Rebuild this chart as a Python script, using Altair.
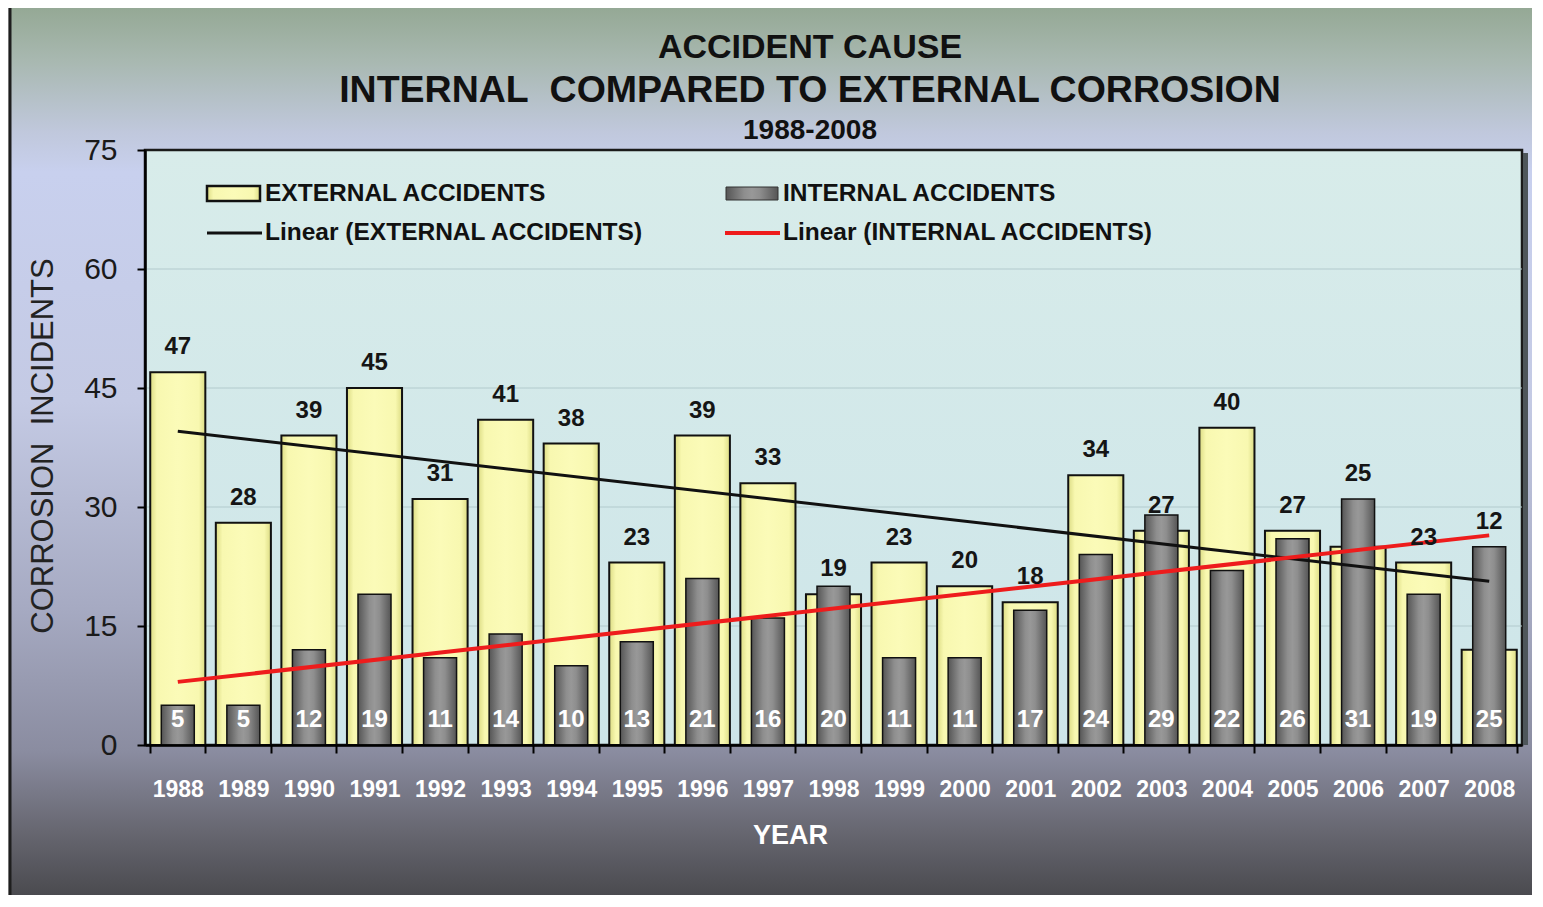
import altair as alt
import pandas as pd

# ---------------- data ----------------
years = [1988, 1989, 1990, 1991, 1992, 1993, 1994, 1995, 1996, 1997, 1998,
         1999, 2000, 2001, 2002, 2003, 2004, 2005, 2006, 2007, 2008]
external = [47, 28, 39, 45, 31, 41, 38, 23, 39, 33, 19, 23, 20, 18, 34, 27, 40, 27, 25, 23, 12]
internal = [5, 5, 12, 19, 11, 14, 10, 13, 21, 16, 20, 11, 11, 17, 24, 29, 22, 26, 31, 19, 25]
y_ticks = [0, 15, 30, 45, 60, 75]
grid_values = [15, 30, 45, 60]

NB = "\u00a0"
title_lines = ["ACCIDENT CAUSE", "INTERNAL" + NB + " COMPARED TO EXTERNAL CORROSION", "1988-2008"]
y_title = "CORROSION" + NB + " INCIDENTS"
legend_labels = ["EXTERNAL ACCIDENTS", "INTERNAL ACCIDENTS",
                 "Linear (EXTERNAL ACCIDENTS)", "Linear (INTERNAL ACCIDENTS)"]

df = pd.DataFrame({"year": years, "external": external, "internal": internal})
grid_df = pd.DataFrame({"v": grid_values})
one = pd.DataFrame({"k": [0]})

# ---------------- layout / style ----------------
W, H = 1377, 595
FONT = "Liberation Sans"

def lin(stops, horizontal=False):
    g = {"gradient": "linear",
         "stops": [{"offset": o, "color": c} for o, c in stops]}
    if horizontal:
        g.update({"x1": 0, "x2": 1, "y1": 0, "y2": 0})
    else:
        g.update({"x1": 0, "x2": 0, "y1": 0, "y2": 1})
    return g

outer_grad = lin([(0, "#94a894"), (0.06, "#a8b8b0"), (0.14, "#c0c8dc"), (0.185, "#c8d0ee"),
                  (0.44, "#c4cae4"), (0.67, "#a6aac2"), (0.83, "#8a8ca0"),
                  (0.915, "#686872"), (1, "#46464a")])
plot_grad = lin([(0, "#d8ecea"), (1, "#cde5e9")])
yellow_grad = lin([(0, "#dcdc84"), (0.12, "#f8f8b0"), (0.5, "#fbfbb8"),
                   (0.88, "#f8f8b0"), (1, "#dcdc84")], horizontal=True)
gray_grad = lin([(0, "#555555"), (0.35, "#8e8e8e"), (0.5, "#989898"),
                 (0.65, "#8e8e8e"), (1, "#555555")], horizontal=True)

xscale = alt.Scale(paddingInner=0.16, paddingOuter=0.08)
yscale = alt.Scale(domain=[0, 75], nice=False)

x_axis = alt.Axis(title="YEAR", labelAngle=0, labelFont=FONT, labelFontSize=23,
                  labelFontWeight="bold", labelColor="white", labelPadding=25,
                  tickBand="extent", tickSize=8, tickColor="black", tickWidth=2,
                  domainColor="black", domainWidth=2.5, grid=False,
                  titleFont=FONT, titleFontSize=27, titleFontWeight="bold",
                  titleColor="white", titleX=645, titleY=90,
                  titleBaseline="middle", titleAlign="center", zindex=1)
y_axis = alt.Axis(values=y_ticks, title=y_title, labelFont=FONT,
                  labelFontSize=30, labelColor="#1a1a1a", labelPadding=20,
                  tickSize=8, tickWidth=2, tickColor="black",
                  domainColor="black", domainWidth=2.5, grid=False,
                  titleFont=FONT, titleFontSize=31, titleFontWeight="normal",
                  titleColor="#222222", titleX=-102, titleY=H / 2 - 2, titleAngle=-90,
                  titleBaseline="middle", titleAlign="center", zindex=1)

def X():
    return alt.X("year:O", scale=xscale, axis=x_axis)

def Y(field):
    return alt.Y(field, scale=yscale, axis=y_axis)

def deco_rect(x, x2, y, y2, **kw):
    return alt.Chart(one).mark_rect(**kw).encode(
        x=alt.value(x), x2=alt.value(x2), y=alt.value(y), y2=alt.value(y2))

def deco_text(txt, x, y, **kw):
    return alt.Chart(one).mark_text(text=txt, **kw).encode(x=alt.value(x), y=alt.value(y))

def deco_rule(x, x2, y, **kw):
    return alt.Chart(one).mark_rule(**kw).encode(x=alt.value(x), x2=alt.value(x2), y=alt.value(y))

# ---------------- background ----------------
outer = deco_rect(-135, W + 20, -144, H + 160, fill=outer_grad, stroke="#1e1e1e", strokeWidth=3)
plot_bg = deco_rect(0, W, 0, H, fill=plot_grad, stroke="#1a1a1a", strokeWidth=2.5)
shadow = deco_rect(W + 1, W + 6, 3, H, fill="#4e565a")

grid = alt.Chart(grid_df).mark_rule(color="#b2cacd", strokeWidth=1).encode(y=Y("v:Q"))

# ---------------- bars ----------------
yellow = alt.Chart(df).mark_bar(fill=yellow_grad, stroke="#111111", strokeWidth=2).encode(
    x=X(), y=Y("external:Q"))
gray = alt.Chart(df).mark_bar(width=33, fill=gray_grad, stroke="#111111", strokeWidth=1.5).encode(
    x=X(), y=Y("internal:Q"))

# ---------------- trend lines ----------------
trend_ext = alt.Chart(df).transform_regression(
    "year", "external", extent=[1988, 2008]).mark_line(color="#111111", strokeWidth=3).encode(
    x=X(), y=Y("external:Q"))
trend_int = alt.Chart(df).transform_regression(
    "year", "internal", extent=[1988, 2008]).mark_line(color="#ee1c1c", strokeWidth=4).encode(
    x=X(), y=Y("internal:Q"))

# ---------------- labels ----------------
ext_labels = alt.Chart(df).transform_calculate(
    top="datum.internal - datum.external > 2 ? datum.internal : datum.external"
).mark_text(font=FONT, fontSize=24, fontWeight="bold", color="#151515",
            dy=-25, baseline="middle").encode(
    x=X(), y=Y("top:Q"), text="external:Q")
int_labels = alt.Chart(df).transform_calculate(zero="0").mark_text(
    font=FONT, fontSize=24, fontWeight="bold", color="white", dy=-25, baseline="middle").encode(
    x=X(), y=Y("zero:Q"), text="internal:Q")

# ---------------- title ----------------
tkw = dict(font=FONT, fontWeight="bold", color="#111111", align="center", baseline="middle")
t1 = deco_text(title_lines[0], 665, -102, fontSize=34, **tkw)
t2 = deco_text(title_lines[1], 665, -59, fontSize=37.5, **tkw)
t3 = deco_text(title_lines[2], 665, -19, fontSize=28, **tkw)

# ---------------- legend ----------------
lkw = dict(font=FONT, fontWeight="bold", fontSize=24.5, color="#111111", align="left", baseline="middle")
lg = [
    deco_rect(62, 115, 36, 51, fill=yellow_grad, stroke="#111111", strokeWidth=2.5),
    deco_text(legend_labels[0], 120, 44, **lkw),
    deco_rect(581, 633, 37, 50, fill=gray_grad, stroke="#333333", strokeWidth=1),
    deco_text(legend_labels[1], 638, 44, **lkw),
    deco_rule(62, 117, 83, color="#111111", strokeWidth=3),
    deco_text(legend_labels[2], 120, 83, **lkw),
    deco_rule(580, 635, 83, color="#ee1c1c", strokeWidth=4),
    deco_text(legend_labels[3], 638, 83, **lkw),
]

chart = alt.layer(
    outer, plot_bg, shadow, grid, yellow, gray, trend_ext, trend_int,
    ext_labels, int_labels, t1, t2, t3, *lg
).properties(
    width=W, height=H,
    padding={"left": 137, "top": 142, "right": 10, "bottom": 150},
    autosize=alt.AutoSizeParams(type="none"),
    background="#c8c8c8",
).configure_view(stroke=None)

chart.save("out.html", embed_options={"renderer": "svg", "actions": False})
